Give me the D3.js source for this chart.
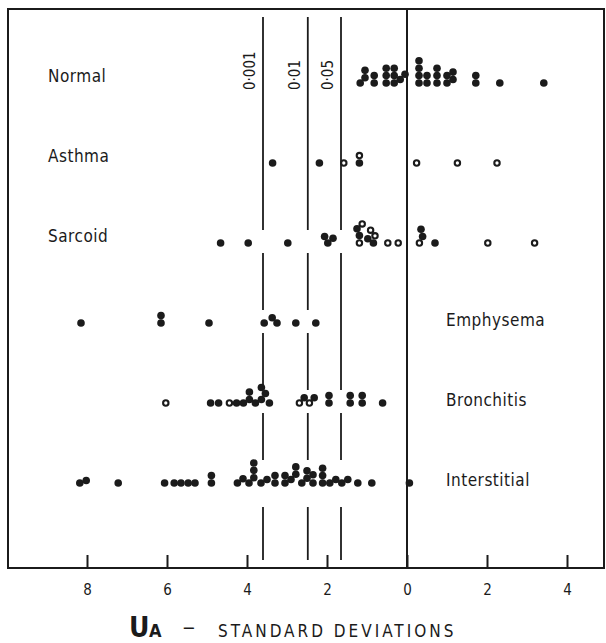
<!DOCTYPE html>
<html>
<head>
<meta charset="utf-8">
<script src="https://cdn.jsdelivr.net/npm/d3@7"></script>
<style>
  body { margin: 0; background: #fff; }
  text { font-family: "DejaVu Sans Condensed", "DejaVu Sans", sans-serif; fill: #1b1b1b; }
</style>
</head>
<body>
<svg id="chart" width="606" height="643"></svg>
<script>
// groups, top to bottom
const groups = ['Normal', 'Asthma', 'Sarcoid', 'Emphysema', 'Bronchitis', 'Interstitial']

// U_A values per patient (negative = left of 0); 1 = open circle
const normalVals = [-1.17, -1.05, -1.05, -0.82, -0.82, -0.52, -0.52, -0.52, -0.32, -0.32, -0.32, -0.17, -0.05,
  0.30, 0.30, 0.30, 0.30, 0.50, 0.50, 0.75, 0.75, 0.75, 1.00, 1.00, 1.15, 1.15, 1.72, 1.72, 2.32, 3.42]
const normalOpen = normalVals.map(() => 0)

const asthmaVals = [-3.36, -2.19, -1.58, -1.19, -1.19, 0.24, 1.26, 2.25]
const asthmaOpen = [0, 0, 1, 0, 1, 1, 1, 1]

const sarcoidVals = [-4.66, -3.97, -2.98, -1.98, -2.06, -1.85, -1.19, -0.84, -1.19, -0.80, -1.25, -0.91,
  -1.12, -0.98, -0.48, -0.22, 0.31, 0.39, 0.35, 0.70, 2.02, 3.19]
const sarcoidOpen = [0, 0, 0, 0, 0, 0, 1, 0, 0, 1, 0, 1, 1, 0, 1, 1, 1, 0, 0, 0, 1, 1]

const emphysemaVals = [-8.15, -6.15, -6.15, -4.95, -3.57, -3.25, -3.37, -2.78, -2.28]
const emphysemaOpen = emphysemaVals.map(() => 0)

const bronchitisVals = [-6.03, -4.91, -4.71, -4.44, -4.26, -4.09, -3.94, -3.94, -3.79, -3.64, -3.44, -3.54, -3.64,
  -2.69, -2.44, -2.57, -2.32, -1.95, -1.95, -1.42, -1.42, -1.12, -1.12, -0.61]
const bronchitisOpen = [1, 0, 0, 1, 0, 0, 0, 0, 0, 0, 0, 0, 0, 1, 1, 0, 0, 0, 0, 0, 0, 0, 0, 0]

const interstitialVals = [-8.18, -8.02, -7.22, -6.06, -5.82, -5.65, -5.47, -5.30, -4.89, -4.89,
  -4.24, -3.95, -4.10, -3.83, -3.83, -3.83, -3.65, -3.50, -3.30, -3.30,
  -3.05, -3.05, -2.90, -2.78, -2.78, -2.63, -2.50, -2.50, -2.35, -2.35,
  -2.11, -2.11, -2.11, -1.93, -1.78, -1.63, -1.48, -1.23, -0.88, 0.06]
const interstitialOpen = interstitialVals.map(() => 0)

// significance limits
const limitVals = [-3.6, -2.48, -1.65]
const limitLabels = ['0·001', '0·01', '0·05']

const tickVals = [-8, -6, -4, -2, 0, 2, 4]

const series = [
  [normalVals, normalOpen], [asthmaVals, asthmaOpen], [sarcoidVals, sarcoidOpen],
  [emphysemaVals, emphysemaOpen], [bronchitisVals, bronchitisOpen], [interstitialVals, interstitialOpen]
]

const svg = d3.select('#chart')
const frameTop = 9, frameBottom = 568, frameLeft = 8, frameRight = 604

const x = d3.scaleLinear().domain([-10, 5]).range([7, 607])
const y = d3.scalePoint().domain(groups).range([83, 483])

// one-sided dodge: each dot sits at the lowest free height
// (elliptic footprint: dots may touch sideways, stacks are a bit taller)
function dodge(vals, dxd, dyd) {
  const placed = []
  const hits = (px, h) => placed.some(p => {
    const a = (p.px - px) / dxd, b = (p.h - h) / dyd
    return a * a + b * b < 0.999
  })
  return vals.map(v => {
    const px = x(v)
    const cands = [0]
    placed.forEach(p => {
      const a = Math.abs(p.px - px) / dxd
      if (a < 1) cands.push(p.h + dyd * Math.sqrt(1 - a * a))
    })
    cands.sort((a, b) => a - b)
    const h = cands.find(c => !hits(px, c))
    placed.push({ px, h })
    return h
  })
}

const dots = []
series.forEach(([vals, open], i) => {
  const hs = dodge(vals, 6.8, 7.4)
  vals.forEach((v, j) => dots.push({ g: groups[i], gi: i, v, open: open[j], h: hs[j] }))
})

// frame
svg.append('rect')
  .attr('x', frameLeft).attr('y', frameTop)
  .attr('width', frameRight - frameLeft).attr('height', frameBottom - frameTop)
  .attr('fill', 'none').attr('stroke', '#1b1b1b').attr('stroke-width', 2)

// zero line
svg.append('line')
  .attr('x1', x(0)).attr('x2', x(0))
  .attr('y1', frameTop).attr('y2', frameBottom)
  .attr('stroke', '#1b1b1b').attr('stroke-width', 2)

// limit lines, broken where they pass through the lower rows of dots
limitVals.forEach((lv, k) => {
  const lx = x(lv)
  const gaps = []
  groups.forEach((g, i) => {
    if (i < 2) return
    const near = dots.some(d => d.gi === i && Math.abs(x(d.v) - lx) < 20)
    if (!near) return
    const yy = y(g)
    gaps.push(i === 5 ? [yy - 23, yy + 24] : [yy - 13, yy + 10])
  })
  let y0 = 17
  const segs = []
  gaps.forEach(([a, b]) => { segs.push([y0, a]); y0 = b })
  segs.push([y0, 560])
  svg.selectAll(null).data(segs).enter().append('line')
    .attr('x1', lx).attr('x2', lx)
    .attr('y1', s => s[0]).attr('y2', s => s[1])
    .attr('stroke', '#1b1b1b').attr('stroke-width', 1.8)

  svg.append('text')
    .attr('transform', 'translate(' + (lx - 8) + ',90) rotate(-90)')
    .attr('font-size', 15)
    .text(limitLabels[k])
})

// dots
svg.selectAll('.dot')
  .data(dots)
  .enter()
  .append('circle')
  .attr('class', 'dot')
  .attr('cx', d => x(d.v))
  .attr('cy', d => y(d.g) - d.h)
  .attr('r', d => d.open ? 2.7 : 3.8)
  .attr('fill', d => d.open ? '#fff' : '#1b1b1b')
  .attr('stroke', d => d.open ? '#1b1b1b' : 'none')
  .attr('stroke-width', 2.1)

// group labels
svg.selectAll('.lab')
  .data(groups)
  .enter()
  .append('text')
  .attr('class', 'lab')
  .attr('x', (d, i) => i < 3 ? 48 : 446)
  .attr('y', (d, i) => y(d) - (i < 3 ? 7 : 3))
  .attr('dy', '0.35em')
  .attr('font-size', 17)
  .attr('letter-spacing', 0.5)
  .text(d => d)

// x axis: inward ticks
const axis = d3.axisBottom(x).tickValues(tickVals).tickSize(-13).tickFormat(d => Math.abs(d))
const ag = svg.append('g').attr('transform', 'translate(0,' + frameBottom + ')').call(axis)
ag.select('.domain').remove()
ag.selectAll('.tick line').attr('stroke', '#1b1b1b').attr('stroke-width', 2)
ag.selectAll('.tick text')
  .attr('y', 16)
  .attr('font-size', 15)
  .attr('font-family', '"DejaVu Sans Condensed", sans-serif')
  .attr('fill', '#1b1b1b')

// axis title
const t = svg.append('text').attr('y', 637)
t.append('tspan').attr('x', 129).attr('font-size', 28).attr('font-weight', 'bold').text('U')
t.append('tspan').attr('x', 149).attr('font-size', 18).attr('font-weight', 'bold').text('A')
t.append('tspan').attr('x', 182).attr('dy', -3).attr('font-size', 18).text('−')
t.append('tspan').attr('x', 218).attr('dy', 3).attr('font-size', 17).attr('letter-spacing', 3).text('STANDARD  DEVIATIONS')
</script>
</body>
</html>
